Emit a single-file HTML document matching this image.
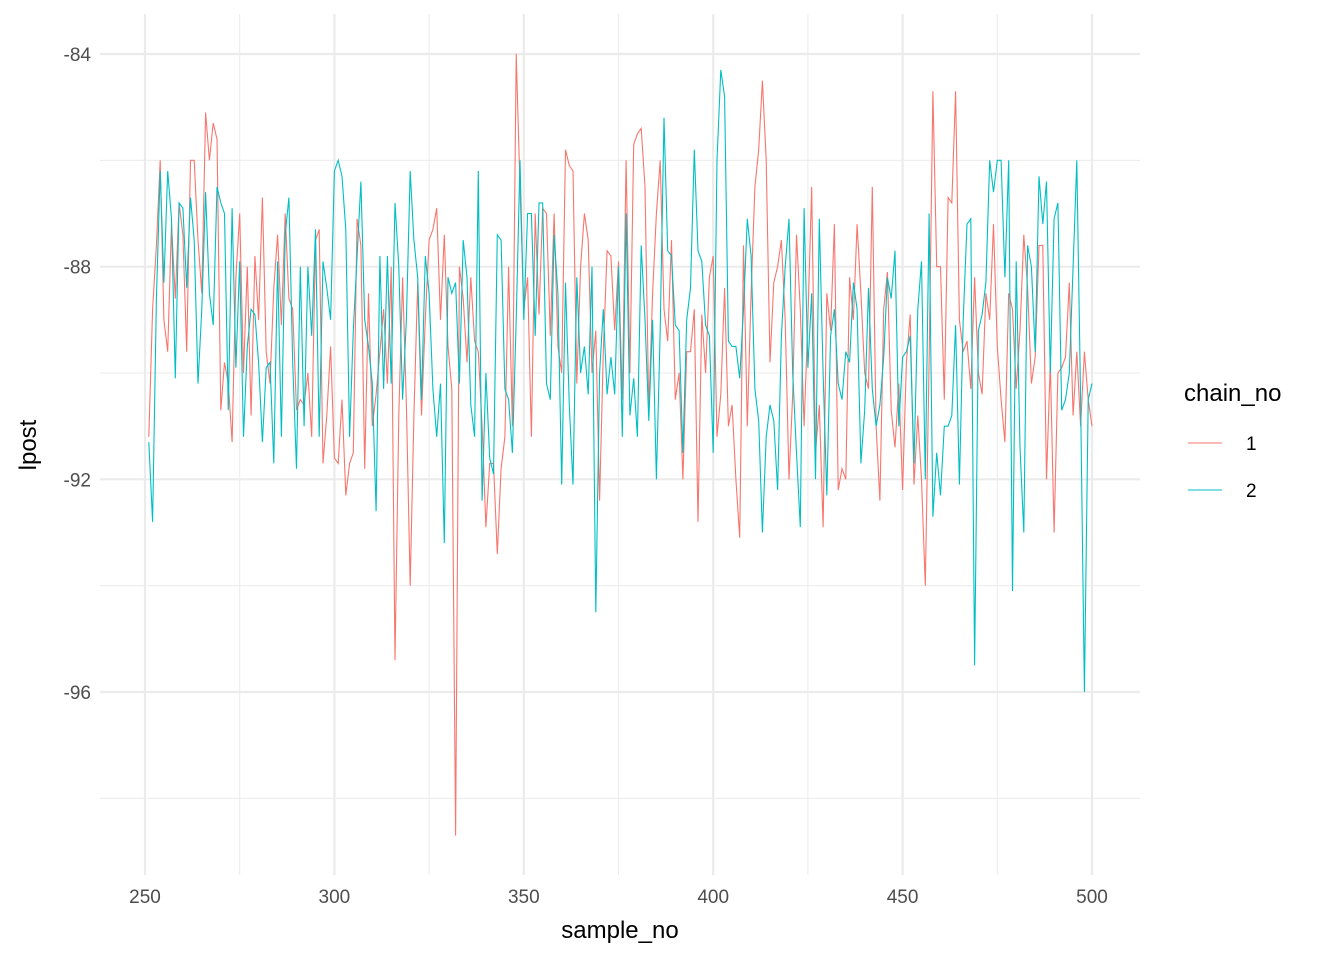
<!DOCTYPE html>
<html><head><meta charset="utf-8"><style>
body{margin:0;background:#fff;font-family:"Liberation Sans","DejaVu Sans",sans-serif}
</style></head><body>
<svg id="c" width="1344" height="960" xmlns="http://www.w3.org/2000/svg"></svg>
<script>
const xTicks=[250,300,350,400,450,500];
const yTicks=[-84,-88,-92,-96];
const chain1=[-91.2,-88.8,-87.6,-86.0,-89.0,-89.6,-87.2,-88.6,-86.8,-87.4,
-89.6,-86.0,-86.0,-87.5,-88.5,-85.1,-86.0,-85.3,-85.6,-90.7,
-89.8,-90.2,-91.3,-88.2,-87.0,-90.0,-88.0,-90.8,-87.8,-89.0,
-86.7,-89.6,-90.2,-88.4,-87.4,-89.1,-87.0,-88.6,-88.8,-90.7,
-90.5,-90.6,-90.0,-91.2,-87.5,-87.3,-91.7,-90.8,-89.5,-91.6,
-91.7,-90.5,-92.3,-91.7,-91.5,-87.1,-87.6,-91.8,-88.5,-91.0,
-90.4,-89.6,-88.8,-90.2,-88.0,-95.4,-90.8,-88.2,-90.6,-94.0,
-90.8,-88.3,-90.8,-89.0,-87.5,-87.3,-86.9,-89.0,-87.4,-89.5,
-90.3,-98.7,-88.0,-88.6,-89.8,-88.2,-89.4,-89.6,-91.0,-92.9,
-91.7,-91.7,-93.4,-91.8,-91.2,-88.0,-91.0,-84.0,-86.5,-88.8,
-88.2,-91.2,-87.0,-88.9,-86.9,-87.0,-89.3,-87.0,-89.5,-90.0,
-85.8,-86.1,-86.2,-90.2,-88.0,-87.0,-87.5,-90.0,-89.2,-92.4,
-89.6,-87.7,-87.8,-89.2,-87.9,-90.5,-86.0,-90.0,-85.7,-85.5,
-85.4,-86.5,-90.7,-88.5,-87.0,-86.0,-88.8,-89.4,-87.5,-90.5,
-90.0,-92.0,-89.6,-89.6,-88.8,-92.8,-88.9,-90.0,-88.2,-87.8,
-91.2,-90.4,-88.4,-91.0,-90.6,-92.0,-93.1,-87.6,-91.0,-88.5,
-86.5,-85.8,-84.5,-86.0,-89.8,-88.3,-88.0,-87.5,-89.0,-92.0,
-90.4,-87.4,-88.8,-91.0,-89.0,-86.5,-91.5,-90.6,-92.9,-88.5,
-89.2,-87.2,-92.2,-91.8,-92.0,-88.2,-89.0,-87.2,-88.5,-90.0,
-90.3,-86.5,-91.0,-92.4,-88.8,-88.1,-90.7,-91.4,-90.2,-92.2,
-89.8,-88.9,-92.1,-90.8,-92.0,-94.0,-89.8,-84.7,-88.0,-88.0,
-90.5,-86.7,-86.8,-84.7,-89.0,-89.6,-89.4,-90.3,-88.2,-90.0,
-90.4,-88.5,-89.0,-87.2,-89.5,-90.5,-91.3,-88.5,-88.8,-90.3,
-89.2,-87.4,-88.4,-90.2,-89.7,-87.6,-87.6,-92.0,-89.8,-93.0,
-90.0,-89.9,-89.7,-88.3,-90.8,-89.6,-91.0,-89.6,-90.5,-91.0];
const chain2=[-91.3,-92.8,-88.6,-86.2,-88.3,-86.2,-87.1,-90.1,-86.8,-86.9,
-88.4,-86.7,-87.5,-90.2,-88.8,-86.6,-88.5,-89.1,-86.5,-86.8,
-87.0,-90.7,-86.9,-89.9,-87.9,-91.2,-89.5,-88.8,-88.9,-89.8,
-91.3,-89.9,-89.8,-91.7,-87.9,-91.2,-87.4,-86.7,-89.8,-91.8,
-88.0,-91.0,-88.0,-89.3,-87.3,-91.2,-87.9,-88.4,-89.0,-86.2,
-86.0,-86.3,-87.3,-91.2,-89.2,-87.8,-86.4,-89.0,-89.5,-90.2,
-92.6,-87.8,-90.3,-87.8,-90.2,-86.8,-88.0,-90.5,-89.0,-86.2,
-87.5,-88.2,-90.5,-87.8,-88.5,-90.3,-91.2,-90.2,-93.2,-88.2,
-88.5,-88.3,-90.2,-87.5,-88.2,-90.6,-91.2,-86.2,-92.4,-90.0,
-91.6,-91.9,-87.4,-87.5,-90.3,-90.5,-91.5,-89.0,-86.0,-89.0,
-87.0,-87.0,-89.3,-86.8,-86.8,-90.2,-90.5,-87.4,-88.5,-92.1,
-88.3,-90.6,-92.1,-88.2,-90.0,-89.5,-90.4,-88.0,-94.5,-90.0,
-88.8,-90.4,-89.7,-90.4,-88.0,-91.2,-87.0,-90.8,-90.1,-91.2,
-87.6,-89.0,-90.9,-89.0,-92.0,-89.2,-85.2,-87.7,-87.8,-89.1,
-89.2,-91.5,-89.0,-88.4,-85.8,-87.7,-87.9,-89.1,-89.3,-91.5,
-86.0,-84.3,-84.8,-89.4,-89.5,-89.5,-90.1,-88.8,-87.1,-87.8,
-90.3,-90.9,-93.0,-91.2,-90.6,-90.9,-92.2,-89.3,-88.0,-87.1,
-90.0,-91.5,-92.9,-86.9,-89.9,-88.5,-92.0,-87.1,-90.0,-92.3,
-89.3,-88.8,-90.2,-90.5,-89.6,-89.8,-88.3,-88.8,-91.7,-90.7,
-88.4,-90.3,-91.0,-90.6,-89.7,-88.2,-88.6,-87.7,-91.0,-89.7,
-89.6,-89.3,-91.7,-88.8,-87.9,-92.0,-87.0,-92.7,-91.5,-92.3,
-91.0,-91.0,-90.8,-89.1,-92.1,-89.0,-87.2,-87.1,-95.5,-89.2,
-88.9,-88.3,-86.0,-86.6,-86.0,-86.0,-88.2,-86.0,-94.1,-87.9,
-91.4,-93.0,-87.6,-88.0,-89.6,-86.3,-87.2,-86.4,-90.0,-87.1,
-86.8,-90.7,-90.5,-90.0,-88.0,-86.0,-90.5,-96.0,-90.5,-90.2];
const startSample=251;
const NS="http://www.w3.org/2000/svg";
const svg=document.getElementById('c');
const X=v=>145+(v-250)*(1092-145)/250;
const Y=v=>54+(-84-v)*(692-54)/12;
function mk(t,a,p){const e=document.createElementNS(NS,t);for(const k in a)e.setAttribute(k,a[k]);(p||svg).appendChild(e);return e;}
const L=100,R=1140,T=14,B=875;
for(let i=0;i<xTicks.length-1;i++){const v=(xTicks[i]+xTicks[i+1])/2;
const g=mk('line',{x1:X(v),x2:X(v),y1:T,y2:B,stroke:'#ebebeb','stroke-width':1});

}
for(let i=0;i<yTicks.length;i++){const v=yTicks[i]-2;
const g=mk('line',{x1:L,x2:R,y1:Y(v),y2:Y(v),stroke:'#ebebeb','stroke-width':1});

}
xTicks.forEach(v=>{const g=mk('line',{x1:X(v),x2:X(v),y1:T,y2:B,stroke:'#ebebeb','stroke-width':2.2});


const t=mk('text',{x:X(v),y:903,'text-anchor':'middle','font-size':19,fill:'#4d4d4d'});t.textContent=v;

});
yTicks.forEach(v=>{const g=mk('line',{x1:L,x2:R,y1:Y(v),y2:Y(v),stroke:'#ebebeb','stroke-width':2.2});


const t=mk('text',{x:91,y:Y(v)+7,'text-anchor':'end','font-size':19,fill:'#4d4d4d'});t.textContent=v;

});
function line(data,color,name){const pts=data.map((v,i)=>X(startSample+i).toFixed(1)+','+Y(v).toFixed(1)).join(' ');
const p=mk('polyline',{points:pts,fill:'none',stroke:color,'stroke-width':1.1});

}
line(chain1,'#F8766D','chain-1-line');
line(chain2,'#00BFC4','chain-2-line');
const xl=mk('text',{x:620,y:938,'text-anchor':'middle','font-size':24,fill:'#000'});xl.textContent='sample_no';


const yl=mk('text',{x:0,y:0,'text-anchor':'middle','font-size':24,fill:'#000',transform:'translate(36,445) rotate(-90)'});yl.textContent='lpost';


const lt=mk('text',{x:1184,y:401,'font-size':24,fill:'#000'});lt.textContent='chain_no';


[['1','#F8766D',443],['2','#00BFC4',490]].forEach(([lab,c,y])=>{
const l=mk('line',{x1:1188,x2:1222,y1:y,y2:y,stroke:c,'stroke-width':1.1});


const t=mk('text',{x:1246,y:y+7,'font-size':19,fill:'#000'});t.textContent=lab;

});
</script>
</body></html>
